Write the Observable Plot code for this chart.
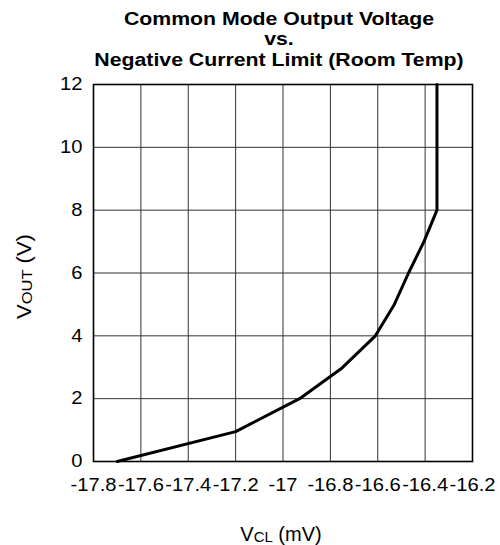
<!DOCTYPE html>
<html>
<head>
<meta charset="utf-8">
<script src="https://cdn.jsdelivr.net/npm/d3@7"></script>
<script src="https://cdn.jsdelivr.net/npm/@observablehq/plot@0.6"></script>
<style>
  html, body { margin: 0; padding: 0; background: white; }
  #chart { width: 500px; height: 545px; }
</style>
</head>
<body>
<div id="chart"></div>
<script>
// Data
const vcl  = [-17.70, -17.20, -16.93, -16.755, -16.61, -16.53, -16.47, -16.405, -16.35, -16.35];
const vout = [0, 0.95, 2, 2.95, 4, 5, 6, 7, 8, 12];

const xTicks = [-17.8, -17.6, -17.4, -17.2, -17, -16.8, -16.6, -16.4, -16.2];
const xTickLabels = ["-17.8", "-17.6", "-17.4", "-17.2", "-17", "-16.8", "-16.6", "-16.4", "-16.2"];
const yTicks = [0, 2, 4, 6, 8, 10, 12];
const yTickLabels = ["0", "2", "4", "6", "8", "10", "12"];

const titleLines = ["Common Mode Output Voltage", "vs.", "Negative Current Limit (Room Temp)"];

const data = vcl.map((x, i) => ({x, y: vout[i]}));

const font = "'Liberation Sans', Arial, Helvetica, sans-serif";
const xFmt = d => xTickLabels[xTicks.findIndex(t => Math.abs(t - d) < 1e-9)];
const yFmt = d => yTickLabels[yTicks.indexOf(d)];

const plot = Plot.plot({
  width: 500,
  height: 545,
  marginLeft: 93,
  marginRight: 28,
  marginTop: 84,
  marginBottom: 84,
  style: {fontFamily: font, fontSize: "18px", color: "black", background: "white"},
  x: {domain: [-17.8, -16.2], ticks: xTicks, label: null, tickFormat: xFmt},
  y: {domain: [0, 12], ticks: yTicks, label: null, tickFormat: yFmt},
  marks: [
    Plot.gridX(xTicks, {stroke: "#333", strokeOpacity: 1, strokeWidth: 1}),
    Plot.gridY(yTicks, {stroke: "#333", strokeOpacity: 1, strokeWidth: 1}),
    Plot.axisX(xTicks, {tickSize: 0, tickPadding: 17, fontSize: 18, tickFormat: xFmt}),
    Plot.axisY(yTicks, {tickSize: 0, tickPadding: 11, fontSize: 18, tickFormat: yFmt}),
    Plot.line(data, {x: "x", y: "y", stroke: "black", strokeWidth: 3, strokeLinejoin: "miter"}),
    Plot.frame({stroke: "black", strokeWidth: 1.6})
  ]
});

document.getElementById("chart").appendChild(plot);

const svg = d3.select(plot);

// Widen tick labels horizontally about their anchor to match the reference glyph widths
svg.selectAll('g[aria-label="x-axis tick label"] text, g[aria-label="y-axis tick label"] text').each(function() {
  const t = this.getAttribute("transform");
  if (t) {
    this.setAttribute("transform", t + " scale(1.12,1)");
  } else {
    const x = +(this.getAttribute("x") || 0);
    this.setAttribute("transform", `translate(${x},0) scale(1.12,1) translate(${-x},0)`);
  }
});

// Title
const cx = 279;
const baselines = [24.5, 44.5, 65.5];
titleLines.forEach((t, i) => {
  svg.append("text")
    .attr("transform", `translate(${cx},${baselines[i]}) scale(1.15,1)`)
    .attr("text-anchor", "middle")
    .attr("font-family", font)
    .attr("font-weight", "bold")
    .attr("font-size", 18.5)
    .attr("fill", "black")
    .text(t);
});

// X axis label: V_CL (mV)
const xl = svg.append("text")
  .attr("x", 281).attr("y", 541)
  .attr("text-anchor", "middle")
  .attr("font-family", font)
  .attr("font-size", 20)
  .attr("fill", "black");
xl.append("tspan").text("V");
xl.append("tspan").attr("font-size", 15).attr("dy", 1).text("CL");
xl.append("tspan").attr("dy", -1).text(" (mV)");

// Y axis label: V_OUT (V)
const yl = svg.append("text")
  .attr("transform", "translate(30.5,276.5) rotate(-90) scale(1.1,1)")
  .attr("text-anchor", "middle")
  .attr("font-family", font)
  .attr("font-size", 20)
  .attr("fill", "black");
yl.append("tspan").text("V");
yl.append("tspan").attr("font-size", 15).attr("dy", 1).text("OUT");
yl.append("tspan").attr("dy", -1).text(" (V)");
</script>
</body>
</html>
